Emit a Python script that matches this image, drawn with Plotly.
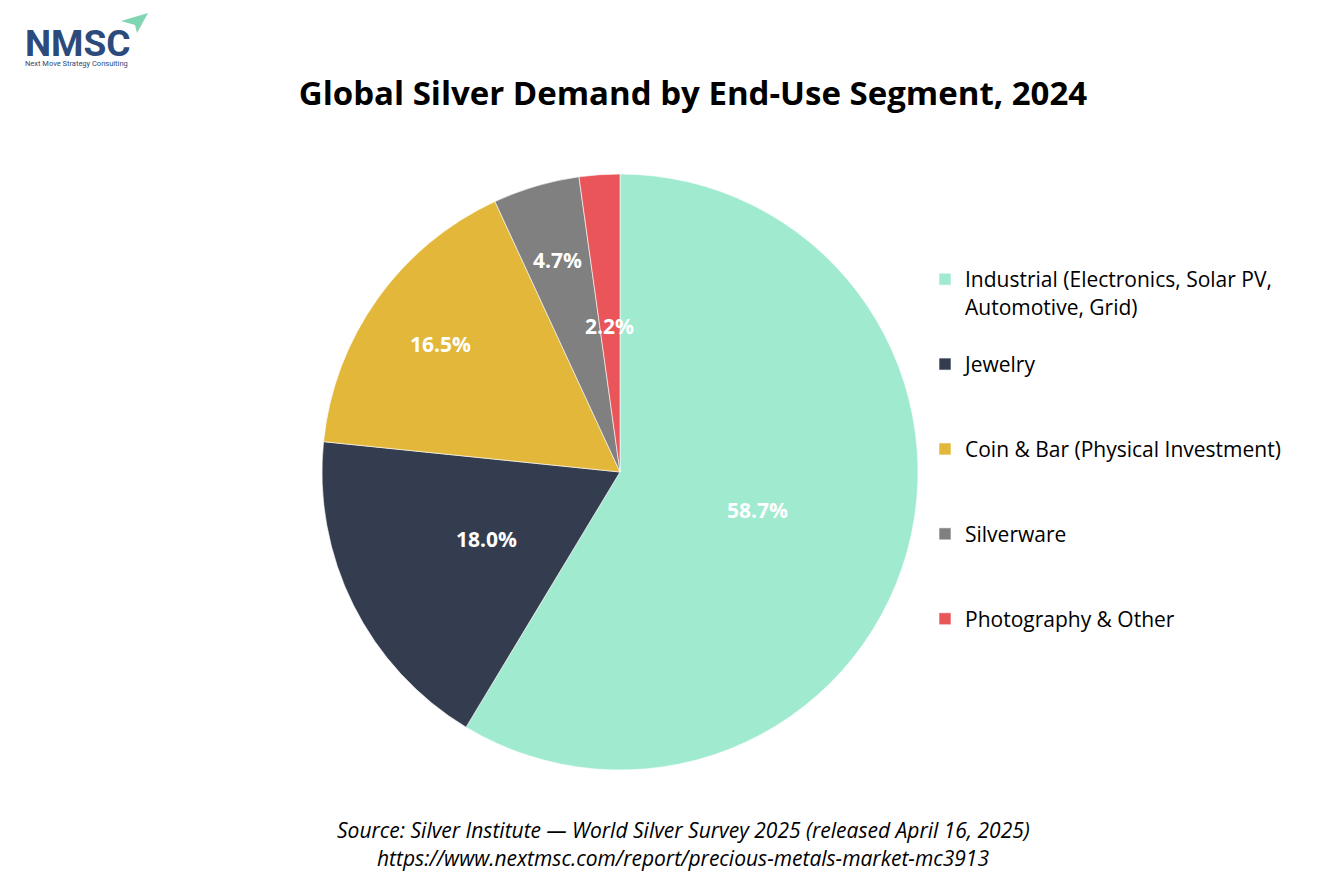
import math
import plotly.graph_objects as go

labels = ["Industrial (Electronics, Solar PV,<br>Automotive, Grid)", "Jewelry", "Coin & Bar (Physical Investment)", "Silverware", "Photography & Other"]
values = [58.7, 18.0, 16.5, 4.7, 2.2]
colors = ["#A0EAD0", "#333D4F", "#E2B73A", "#808080", "#E95558"]
title_text = "Global Silver Demand by End-Use Segment, 2024"
source_text = "Source: Silver Institute — World Silver Survey 2025 (released April 16, 2025)"
url_text = "https://www.nextmsc.com/report/precious-metals-market-mc3913"

# label placement style: fraction of radius for each slice's value label
label_radius_frac = [0.48, 0.50, 0.74, 0.74, 0.49]

W, H = 1334, 889
OFF = 8  # page body margin
FONT = "Open Sans"


def X(px):
    return (px - OFF) / W


def Y(py):
    return 1 - (py - OFF) / H


CX, CY, R = 620, 472, 298

# pad legend entries so items are evenly spaced (3 lines each)
legend_labels = []
for lab in labels:
    n = lab.count("<br>") + 1
    legend_labels.append(lab + "<br> " * (3 - n))

fig = go.Figure()
fig.add_trace(go.Pie(
    labels=legend_labels,
    values=values,
    sort=False,
    direction="clockwise",
    rotation=0,
    marker=dict(colors=colors, line=dict(color="white", width=0.6)),
    textinfo="none",
    hoverinfo="skip",
    domain=dict(x=[X(CX - R), X(CX + R)], y=[Y(CY + R), Y(CY - R)]),
))

# value labels placed at each slice's mid-angle (derived from the data)
total = sum(values)
cum = 0.0
for v, f in zip(values, label_radius_frac):
    mid = (cum + v / 2) / total * 2 * math.pi
    cum += v
    lx = CX + R * f * math.sin(mid)
    ly = CY - R * f * math.cos(mid)
    fig.add_annotation(text=f"<b>{v:.1f}%</b>", x=X(lx), y=Y(ly), xref="paper", yref="paper",
                       showarrow=False, xanchor="center", yanchor="middle",
                       font=dict(family=FONT, size=21, color="white"))

fig.update_layout(
    width=W, height=H,
    margin=dict(l=0, r=0, t=0, b=0),
    paper_bgcolor="white",
    plot_bgcolor="white",
    font=dict(family=FONT, color="black"),
    title=dict(text="<b>" + title_text + "</b>", x=X(693), xanchor="center",
               y=Y(93), yanchor="middle",
               font=dict(family=FONT, size=33, color="black")),
    legend=dict(x=X(925), xanchor="left", y=Y(259), yanchor="top",
                valign="top", font=dict(family=FONT, size=21, color="black"),
                bgcolor="rgba(0,0,0,0)"),
    showlegend=True,
)

fig.add_annotation(text="<i>" + source_text + "</i>", x=X(683), y=Y(830),
                   xref="paper", yref="paper", showarrow=False,
                   xanchor="center", yanchor="middle",
                   font=dict(family=FONT, size=21, color="black"))
fig.add_annotation(text="<i>" + url_text + "</i>", x=X(683), y=Y(858),
                   xref="paper", yref="paper", showarrow=False,
                   xanchor="center", yanchor="middle",
                   font=dict(family=FONT, size=21, color="black"))

# logo
fig.add_annotation(text="<span style='font-size:37px'><b>NMSC</b></span><br>Next Move Strategy Consulting",
                   x=X(23), y=Y(20), xref="paper", yref="paper",
                   showarrow=False, xanchor="left", yanchor="top", align="left",
                   font=dict(family="Roboto", size=7.5, color="#2C4A7C"))


def pp(x, y):
    return f"{X(x):.5f},{Y(y):.5f}"


fig.add_shape(type="path", xref="paper", yref="paper",
              path=f"M {pp(148, 13)} L {pp(121, 21)} L {pp(135, 25)} L {pp(137, 33)} Z",
              fillcolor="#7FD6B0", line=dict(width=0))

fig.write_html("out.html")
